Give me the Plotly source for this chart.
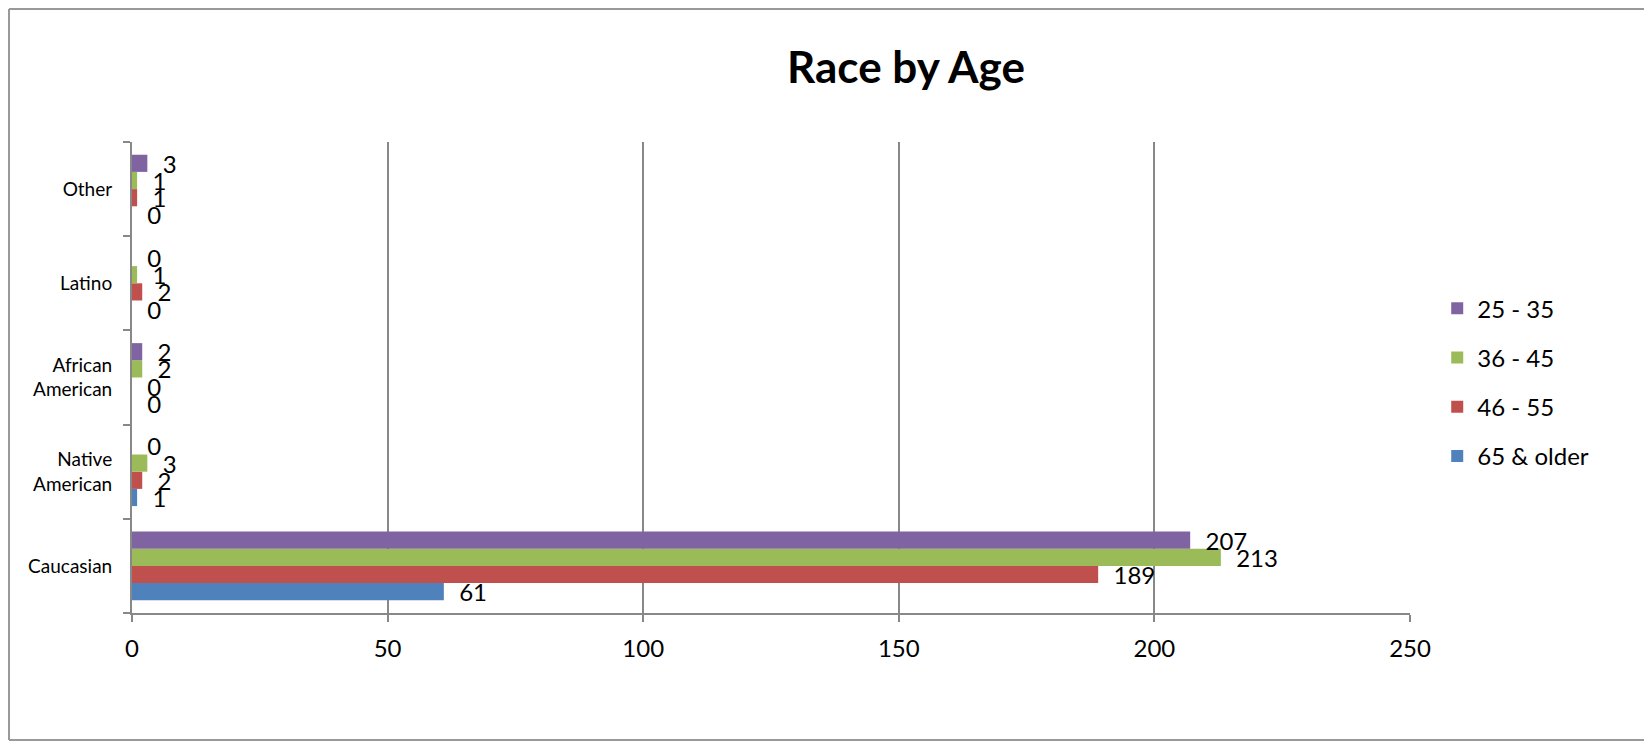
import plotly.graph_objects as go

categories = ["Caucasian", "Native<br>American", "African<br>American", "Latino", "Other"]
series_names = ["65 & older", "46 - 55", "36 - 45", "25 - 35"]
values_65_older = [61, 1, 0, 0, 0]
values_46_55 = [189, 2, 0, 2, 1]
values_36_45 = [213, 3, 2, 1, 1]
values_25_35 = [207, 0, 2, 0, 3]
colors = ["#4F81BD", "#C0504D", "#9BBB59", "#8064A2"]
legend_ranks = [4, 3, 2, 1]
x_ticks = [0, 50, 100, 150, 200, 250]

all_values = [values_65_older, values_46_55, values_36_45, values_25_35]

FONT = "Lato"
OFF = 8  # page body margin compensation
W, H = 1652 - 2 * OFF, 749 - 2 * OFF
L, T, PW, PH = 132 - OFF, 142 - OFF, 1278, 471

fig = go.Figure()
for name, vals, col, rk in zip(series_names, all_values, colors, legend_ranks):
    fig.add_trace(go.Bar(
        y=categories, x=vals, name=name, orientation="h",
        marker=dict(color=col, line=dict(width=0)),
        texttemplate="\u00a0\u00a0%{x}",
        textposition="outside",
        constraintext="none",
        cliponaxis=False,
        textfont=dict(family=FONT, size=24, color="black"),
        legendgroup=name,
        legendrank=rk,
    ))

# chart-area border (left, top, bottom)
bx0 = (1 - L) / PW
bx1 = (W + 20 - L) / PW
by_top = (T + PH - 1) / PH
by_bot = (T + PH - (H - 1)) / PH
border = dict(color="#999999", width=2)

fig.update_layout(
    width=W, height=H,
    paper_bgcolor="white", plot_bgcolor="white",
    barmode="group", bargap=0.27, bargroupgap=0,
    margin=dict(l=L, r=W - L - PW, t=T, b=H - T - PH),
    title=dict(text="<b>Race by Age</b>", x=(906 - OFF) / W, xanchor="center",
               y=1 - (68 - OFF) / H, yanchor="middle", yref="container",
               font=dict(family=FONT, size=44, color="black")),
    legend=dict(traceorder="grouped", tracegroupgap=15,
                x=1.0213, xanchor="left", y=0.49, yanchor="middle",
                font=dict(family=FONT, size=24, color="black"),
                itemwidth=30),
    showlegend=True,
    xaxis=dict(range=[0, 250], tickvals=x_ticks, showgrid=True,
               gridcolor="#888888", gridwidth=1.5,
               showline=True, linecolor="#888888", linewidth=2,
               ticks="outside", ticklen=7, tickcolor="#888888", tickwidth=1.5,
               tickfont=dict(family=FONT, size=24, color="black"),
               zeroline=False, ticklabelstandoff=6),
    yaxis=dict(type="category", categoryorder="array", categoryarray=categories,
               showline=True, linecolor="#888888", linewidth=2,
               ticks="outside", ticklen=7, tickcolor="#888888", tickwidth=1.5,
               tickson="boundaries", showgrid=False,
               tickfont=dict(family=FONT, size=19, color="black"),
               ticklabelstandoff=14),
    shapes=[
        dict(type="line", xref="paper", yref="paper", x0=bx0, x1=bx0,
             y0=by_bot, y1=by_top, line=border, layer="below"),
        dict(type="line", xref="paper", yref="paper", x0=bx0, x1=bx1,
             y0=by_top, y1=by_top, line=border, layer="below"),
        dict(type="line", xref="paper", yref="paper", x0=bx0, x1=bx1,
             y0=by_bot, y1=by_bot, line=border, layer="below"),
    ],
)

fig.write_html("out.html")
